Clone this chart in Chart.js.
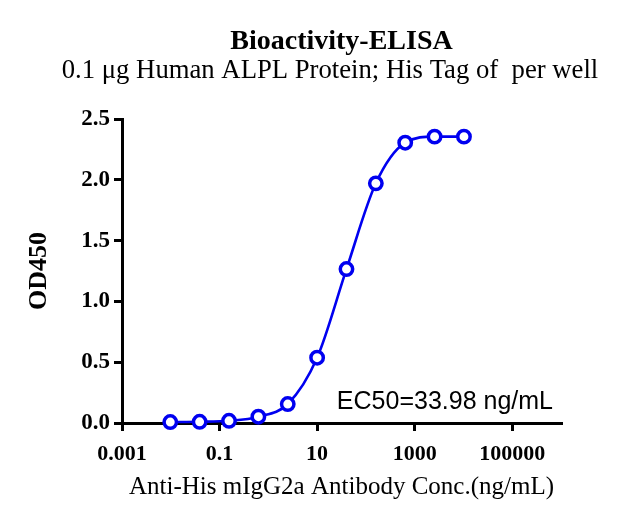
<!DOCTYPE html>
<html><head><meta charset="utf-8">
<script src="https://cdn.jsdelivr.net/npm/chart.js@4.4.1/dist/chart.umd.min.js"></script>
<style>html,body{margin:0;padding:0;background:#fff;}</style>
</head><body>
<canvas id="c" width="631" height="522"></canvas>
<script>
const titleText = 'Bioactivity-ELISA';
const subtitleText = '0.1 \u03bcg Human ALPL Protein; His Tag of  per well';
const xTitle = 'Anti-His mIgG2a Antibody Conc.(ng/mL)';
const yTitle = 'OD450';
const ec50Label = 'EC50=33.98 ng/mL';

const concentrations = [0.009766, 0.03906, 0.1563, 0.625, 2.5, 10, 40, 160, 640, 2560, 10240];
const od450 = [0.008, 0.01, 0.018, 0.052, 0.156, 0.537, 1.266, 1.971, 2.305, 2.355, 2.355];

const xTickValues = [0.001, 0.1, 10, 1000, 100000];
const xTickLabels = ['0.001', '0.1', '10', '1000', '100000'];
const yTickValues = [0, 0.5, 1.0, 1.5, 2.0, 2.5];
const yTickLabels = ['0.0', '0.5', '1.0', '1.5', '2.0', '2.5'];

const SERIF = '"Liberation Serif", "Times New Roman", serif';
const SANS = '"Liberation Sans", Arial, sans-serif';
const BLUE = 'rgb(0,0,240)';

const ec50Plugin = {
  id: 'ec50',
  afterDatasetsDraw(chart) {
    const {ctx, chartArea} = chart;
    ctx.save();
    ctx.font = '25px ' + SANS;
    ctx.fillStyle = '#000';
    ctx.textAlign = 'right';
    ctx.textBaseline = 'alphabetic';
    ctx.fillText(ec50Label, chartArea.right - 8, chartArea.bottom - 14);
    ctx.restore();
  }
};

new Chart(document.getElementById('c'), {
  type: 'line',
  data: {
    datasets: [{
      data: concentrations.map((x, i) => ({x: x, y: od450[i]})),
      borderColor: BLUE,
      borderWidth: 2.6,
      backgroundColor: '#fff',
      pointBackgroundColor: '#fff',
      pointBorderColor: BLUE,
      pointBorderWidth: 3.5,
      pointRadius: 6.2,
      pointHoverRadius: 6.2,
      cubicInterpolationMode: 'monotone',
      fill: false,
      clip: false
    }]
  },
  options: {
    responsive: false,
    animation: false,
    devicePixelRatio: 1,
    events: [],
    layout: {padding: {top: 0, left: 29, right: 0, bottom: 0}},
    plugins: {
      legend: {display: false},
      tooltip: {enabled: false},
      title: {
        display: true, text: titleText, color: '#000', fullSize: false,
        font: {family: SERIF, size: 28, weight: 'bold', lineHeight: 1.0},
        padding: {top: 28, bottom: 0}
      },
      subtitle: {
        display: true, text: subtitleText, color: '#000', fullSize: true,
        font: {family: SERIF, size: 26.7, weight: 'normal', lineHeight: 1.0},
        padding: {top: 2, bottom: 34.3}
      }
    },
    scales: {
      x: {
        type: 'logarithmic',
        min: 0.001, max: 1000000,
        afterBuildTicks: s => { s.ticks = xTickValues.map(v => ({value: v})); },
        afterFit: s => { s.height = 99; },
        ticks: {
          autoSkip: false, maxRotation: 0, color: '#000', padding: 10,
          font: {family: SERIF, size: 22, weight: 'bold'},
          callback: (v) => { const k = xTickValues.indexOf(v); return k >= 0 ? xTickLabels[k] : ''; }
        },
        grid: {drawOnChartArea: false, drawTicks: true, tickLength: 8, lineWidth: 3, color: '#000'},
        border: {display: true, color: '#000', width: 3},
        title: {
          display: true, text: xTitle, color: '#000',
          font: {family: SERIF, size: 25, weight: 'normal', lineHeight: 1.2},
          padding: {top: 0, bottom: 20}
        }
      },
      y: {
        type: 'linear',
        min: 0, max: 2.5,
        afterBuildTicks: s => { s.ticks = yTickValues.map(v => ({value: v})); },
        afterFit: s => { s.width = 93; },
        ticks: {
          color: '#000', padding: 4,
          font: {family: SERIF, size: 23, weight: 'bold'},
          callback: (v) => { const k = yTickValues.indexOf(v); return k >= 0 ? yTickLabels[k] : ''; }
        },
        grid: {drawOnChartArea: false, drawTicks: true, tickLength: 8, lineWidth: 3, color: '#000'},
        border: {display: true, color: '#000', width: 3},
        title: {
          display: true, text: yTitle, color: '#000',
          font: {family: SERIF, size: 26, weight: 'bold', lineHeight: 0.8},
          padding: {top: 0, bottom: 0}
        }
      },
      yRightSpace: {
        type: 'linear',
        position: 'right',
        display: true,
        afterFit: s => { s.width = 70; },
        ticks: {display: false},
        grid: {display: false, drawTicks: false},
        border: {display: false},
        title: {display: false}
      }
    }
  },
  plugins: [ec50Plugin]
});
</script>
</body></html>
